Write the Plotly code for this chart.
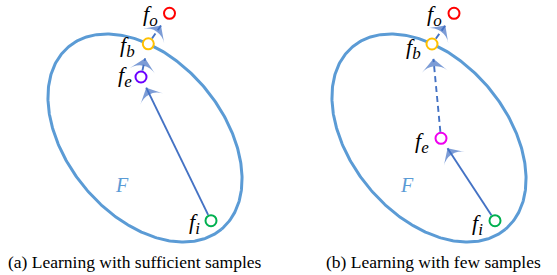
import numpy as np
import plotly.graph_objects as go

# ---- data (pixel-space diagram coordinates) ----
panels = ["a", "b"]
panel_dx = [0, 284]
captions = ["(a) Learning with sufficient samples", "(b) Learning with few samples"]
caption_x = [135, 433]

# ellipse F (per panel, shifted by panel_dx)
ell_cx, ell_cy, ell_a, ell_b, ell_deg = 145, 138, 119, 78, 50

point_names = ["i", "e", "b", "o"]
pts_a = {"i": (211, 220.7), "e": (141, 77), "b": (148.3, 43.8), "o": (169.5, 13.3)}
pts_b = {"i": (211, 220.7), "e": (157, 138.3), "b": (148, 44), "o": (170, 13.3)}
point_colors_a = {"i": "#00b050", "e": "#6a00ff", "b": "#ffc000", "o": "#ff0000"}
point_colors_b = {"i": "#00b050", "e": "#ee00ee", "b": "#ffc000", "o": "#ff0000"}
label_pos_a = {"i": (194, 223), "e": (125, 76), "b": (127, 46), "o": (150, 15)}
label_pos_b = {"i": (193, 224), "e": (138, 142), "b": (129, 48), "o": (150, 15)}
F_pos = [(122, 185), (123, 185)]

# arrows: (from, to, dashed)
arrows = [("i", "e", False), ("e", "b", True), ("b", "o", True)]

ELL_COLOR = "#5b9bd5"
ARR_COLOR = "#4472c4"
R = 5.5   # circle radius px
GAP = 4.0  # gap between arrow tip and circle edge
HEAD = 18  # arrowhead marker size

fig = go.Figure()

t = np.linspace(0, 2 * np.pi, 400)
th = np.deg2rad(ell_deg)
annotations = []

for k, dx in enumerate(panel_dx):
    pts = pts_a if k == 0 else pts_b
    cols = point_colors_a if k == 0 else point_colors_b
    lpos = label_pos_a if k == 0 else label_pos_b
    ex = ell_cx + dx + ell_a * np.cos(th) * np.cos(t) - ell_b * np.sin(th) * np.sin(t)
    ey = ell_cy + ell_a * np.sin(th) * np.cos(t) + ell_b * np.cos(th) * np.sin(t)
    fig.add_trace(go.Scatter(x=ex, y=ey, mode="lines",
                             line=dict(color=ELL_COLOR, width=3), hoverinfo="skip"))
    for (p0, p1, dashed) in arrows:
        x0, y0 = pts[p0][0] + dx, pts[p0][1]
        x1, y1 = pts[p1][0] + dx, pts[p1][1]
        L = np.hypot(x1 - x0, y1 - y0)
        ux, uy = (x1 - x0) / L, (y1 - y0) / L
        sx, sy = x0 + ux * (R + 1), y0 + uy * (R + 1)
        gap = GAP if dashed else 1.0
        tx, ty = x1 - ux * (R + gap), y1 - uy * (R + gap)
        # head marker centred a bit behind the tip
        hx, hy = tx - ux * HEAD * 0.3, ty - uy * HEAD * 0.3
        fig.add_trace(go.Scatter(x=[sx, hx], y=[sy, hy], mode="lines",
                                 line=dict(color=ARR_COLOR, width=1.9,
                                           dash="6px,4px" if dashed else "solid"),
                                 hoverinfo="skip"))
        fig.add_trace(go.Scatter(x=[sx, hx], y=[sy, hy], mode="markers",
                                 marker=dict(symbol="arrow-wide", size=[0, HEAD], color=ARR_COLOR,
                                             angleref="previous", line=dict(width=0)),
                                 hoverinfo="skip"))
    for n in point_names:
        fig.add_trace(go.Scatter(x=[pts[n][0] + dx], y=[pts[n][1]], mode="markers",
                                 marker=dict(symbol="circle", size=2 * R, color="white",
                                             line=dict(color=cols[n], width=2)),
                                 hoverinfo="skip"))
        lx, ly = lpos[n]
        annotations.append(dict(x=lx + dx, y=ly, xref="x", yref="y", showarrow=False,
                                text="<i>f</i><sub><i><span style='font-size:17px'>%s</span></i></sub>" % n,
                                font=dict(family="Liberation Serif", size=22, color="black"),
                                xanchor="center", yanchor="middle"))
    annotations.append(dict(x=F_pos[k][0] + dx, y=F_pos[k][1], xref="x", yref="y",
                            showarrow=False, text="<i>F</i>",
                            font=dict(family="Liberation Serif", size=20, color=ELL_COLOR),
                            xanchor="center", yanchor="middle"))
    annotations.append(dict(x=caption_x[k], y=262, xref="x", yref="y", showarrow=False,
                            text=captions[k],
                            font=dict(family="Liberation Serif", size=17.5, color="black"),
                            xanchor="center", yanchor="middle"))

fig.update_layout(
    width=557, height=275, margin=dict(l=0, r=0, t=0, b=0),
    paper_bgcolor="white", plot_bgcolor="white", showlegend=False,
    xaxis=dict(range=[0, 557], visible=False, fixedrange=True),
    yaxis=dict(range=[275, 0], visible=False, fixedrange=True),
    annotations=annotations,
)
fig.write_html("out.html", config={"displayModeBar": False},
               post_script="document.body.style.margin='0';")
